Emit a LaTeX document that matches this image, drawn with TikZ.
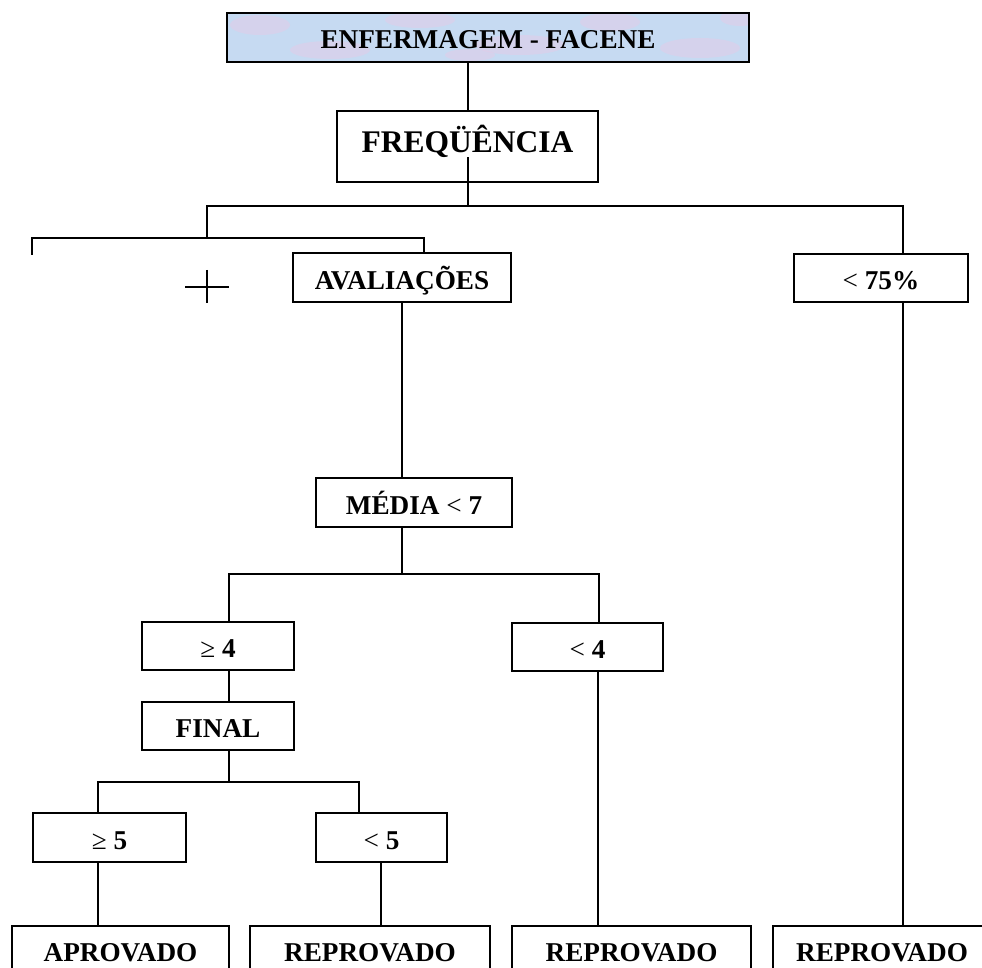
\documentclass[tikz,border=0pt]{standalone}
\usepackage{fontspec}
\setmainfont{Liberation Serif}
\begin{document}
\begin{tikzpicture}[x=1pt,y=-1pt,
  ln/.style={line width=1.8pt, line cap=rect},
  bx/.style={draw, line width=1.8pt, inner sep=0pt, align=center,
    font=\bfseries\fontsize{27.2}{27.2}\selectfont, text height=23pt, text depth=0pt},
  bigbx/.style={bx, font=\bfseries\fontsize{31.5}{31.5}\selectfont, text height=13pt}]
\useasboundingbox (0,0) rectangle (982,968);
\clip (0,0) rectangle (982,968);
\fill[white] (0,0) rectangle (982,968);
\definecolor{titlefill}{RGB}{198,218,242}
\definecolor{titlepink}{RGB}{226,204,232}
% title background texture
\begin{scope}
  \clip (227,13) rectangle (749,62);
  \fill[titlefill] (227,13) rectangle (749,62);
  \foreach \px/\py/\rx/\ry in {260/25/30/10, 330/50/40/9, 420/20/35/8, 520/45/45/10, 610/22/30/9, 700/48/40/10, 470/55/25/6, 740/18/20/8}
    \fill[titlepink, opacity=0.55] (\px,\py) ellipse [x radius=\rx pt, y radius=\ry pt];
\end{scope}
% boxes
\node[bx, minimum width=522pt, minimum height=49pt] (title) at (488,37.5) {ENFERMAGEM - FACENE};
\node[bigbx, minimum width=261pt, minimum height=71pt] (freq) at (467.5,146.5) {FREQÜÊNCIA};
\node[bx, minimum width=218pt, minimum height=49pt] (aval) at (402,277.5) {AVALIAÇÕES};
\node[bx, minimum width=174pt, minimum height=48pt] (lt75) at (881,278) {{\mdseries <} 75\%};
\node[bx, minimum width=196pt, minimum height=49pt] (media) at (414,502.5) {MÉDIA {\mdseries <} 7};
\node[bx, minimum width=152pt, minimum height=48pt] (ge4) at (218,646) {{\mdseries ≥} 4};
\node[bx, minimum width=151pt, minimum height=48pt] (lt4) at (587.5,647) {{\mdseries <} 4};
\node[bx, minimum width=152pt, minimum height=48pt] (final) at (218,726) {FINAL};
\node[bx, minimum width=153pt, minimum height=49pt] (ge5) at (109.5,837.5) {{\mdseries ≥} 5};
\node[bx, minimum width=131pt, minimum height=49pt] (lt5) at (381.5,837.5) {{\mdseries <} 5};
\node[bx, minimum width=217pt, minimum height=47pt] (ap) at (120.5,949.5) {APROVADO};
\node[bx, minimum width=240pt, minimum height=47pt] (rp1) at (370,949.5) {REPROVADO};
\node[bx, minimum width=239pt, minimum height=47pt] (rp2) at (631.5,949.5) {REPROVADO};
\node[bx, minimum width=218pt, minimum height=47pt] (rp3) at (882,949.5) {REPROVADO};
% junction coordinates
\coordinate (fin) at (468,158);
\coordinate (j1) at (468,206);
\coordinate (j1l) at (207,206);
\coordinate (j1r) at (903,206);
\coordinate (j2) at (207,238);
\coordinate (j2l) at (32,238);
\coordinate (j2le) at (32,254);
\coordinate (j2r) at (424,238);
\coordinate (j3) at (402,574);
\coordinate (j3l) at (229,574);
\coordinate (j3r) at (599,574);
\coordinate (j4) at (229,782);
\coordinate (j4l) at (98,782);
\coordinate (j4r) at (359,782);
\coordinate (c5) at (381,862);
\coordinate (c4) at (598,671);
% connectors
\draw[ln] (title.south -| fin) -- (freq.north -| fin);
\draw[ln] (fin) -- (j1);
\draw[ln] (j1l) -- (j1r);
\draw[ln] (j1l) -- (j2);
\draw[ln] (j2le) -- (j2l) -- (j2r) -- (aval.north -| j2r);
\draw[ln] (j1r) -- (lt75.north -| j1r);
\draw[ln] (aval.south) -- (aval.south |- media.north);
\draw[ln] (media.south -| j3) -- (j3);
\draw[ln] (j3l) -- (j3r);
\draw[ln] (j3l) -- (ge4.north -| j3l);
\draw[ln] (j3r) -- (lt4.north -| j3r);
\draw[ln] (ge4.south -| j4) -- (final.north -| j4);
\draw[ln] (final.south -| j4) -- (j4);
\draw[ln] (j4l) -- (j4r);
\draw[ln] (j4l) -- (ge5.north -| j4l);
\draw[ln] (j4r) -- (lt5.north -| j4r);
\draw[ln] (ge5.south -| j4l) -- (ap.north -| j4l);
\draw[ln] (c5) -- (rp1.north -| c5);
\draw[ln] (c4) -- (rp2.north -| c4);
\draw[ln] (lt75.south -| j1r) -- (rp3.north -| j1r);
% plus sign
\draw[ln, line cap=butt] (185,287) -- (229,287);
\draw[ln, line cap=butt] (207,270) -- (207,303);
\end{tikzpicture}
\end{document}
